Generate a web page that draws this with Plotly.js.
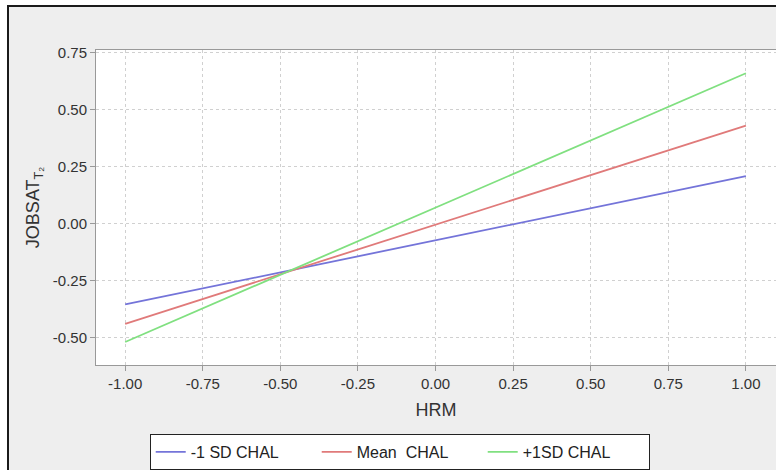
<!DOCTYPE html>
<html>
<head>
<meta charset="utf-8">
<script src="https://cdn.plot.ly/plotly-3.0.1.min.js"></script>
<style>
  html, body { margin: 0; padding: 0; background: #ffffff; overflow: hidden; }
  #frame { position: absolute; left: 7px; top: 5px; width: 769px; height: 465px;
           border-left: 2px solid #1a1a1a; border-top: 2px solid #1a1a1a; background: #eeeeee; }
  #chart { position: absolute; left: 0; top: 0; width: 767px; height: 463px; }
</style>
</head>
<body>
<div id="frame"><div id="chart"></div></div>
<script>
// Data
var hrm = [-1.0, 1.0];
var lowChal = [-0.354, 0.209];
var meanChal = [-0.439, 0.431];
var highChal = [-0.519, 0.661];
var seriesNames = ['-1 SD CHAL', 'Mean  CHAL', '+1SD CHAL'];
var xTickVals = [-1.0, -0.75, -0.5, -0.25, 0.0, 0.25, 0.5, 0.75, 1.0];
var xTickText = ['-1.00', '-0.75', '-0.50', '-0.25', '0.00', '0.25', '0.50', '0.75', '1.00'];
var yTickVals = [-0.5, -0.25, 0.0, 0.25, 0.5, 0.75];
var yTickText = ['-0.50', '-0.25', '0.00', '0.25', '0.50', '0.75'];

var colors = ['#7474d9', '#e07a7a', '#80e080'];
var seriesData = [lowChal, meanChal, highChal];

var traces = seriesData.map(function (ys, i) {
  return {
    x: hrm, y: ys, type: 'scatter', mode: 'lines', name: seriesNames[i],
    line: { color: colors[i], width: 1.8 }
  };
});

var axisFont = { family: 'Liberation Sans, Arial, sans-serif', size: 15, color: '#333333' };

var layout = {
  width: 767, height: 463,
  margin: { l: 87, r: 0, t: 43, b: 101 },
  paper_bgcolor: 'rgba(0,0,0,0)',
  plot_bgcolor: '#ffffff',
  showlegend: true,
  xaxis: {
    range: [-1.094, 1.097],
    tickmode: 'array', tickvals: xTickVals, ticktext: xTickText,
    tickfont: axisFont,
    showgrid: true, gridcolor: '#d0d0d0', griddash: 'dot', gridwidth: 1,
    zeroline: false,
    showline: true, linecolor: '#999999', linewidth: 1, mirror: true,
    ticks: 'outside', ticklen: 5, tickcolor: '#999999',
    title: { text: 'HRM', font: { family: 'Liberation Sans, Arial, sans-serif', size: 18, color: '#333333' }, standoff: 12 }
  },
  yaxis: {
    range: [-0.62, 0.763],
    tickmode: 'array', tickvals: yTickVals, ticktext: yTickText,
    tickfont: axisFont,
    showgrid: true, gridcolor: '#d0d0d0', griddash: 'dot', gridwidth: 1,
    zeroline: false,
    showline: true, linecolor: '#999999', linewidth: 1,
    ticks: 'outside', ticklen: 5, tickcolor: '#999999',
    title: { text: 'JOBSAT<sub>T₂</sub>', font: { family: 'Liberation Sans, Arial, sans-serif', size: 18, color: '#333333' }, standoff: 8 }
  },
  legend: {
    orientation: 'h',
    x: 0.079, xanchor: 'left',
    y: -0.22, yanchor: 'top',
    bgcolor: '#ffffff', bordercolor: '#222222', borderwidth: 1,
    font: { family: 'Liberation Sans, Arial, sans-serif', size: 16, color: '#222222' },
    entrywidth: 121
  }
};

Plotly.newPlot('chart', traces, layout, { displayModeBar: false, staticPlot: true });
</script>
</body>
</html>
